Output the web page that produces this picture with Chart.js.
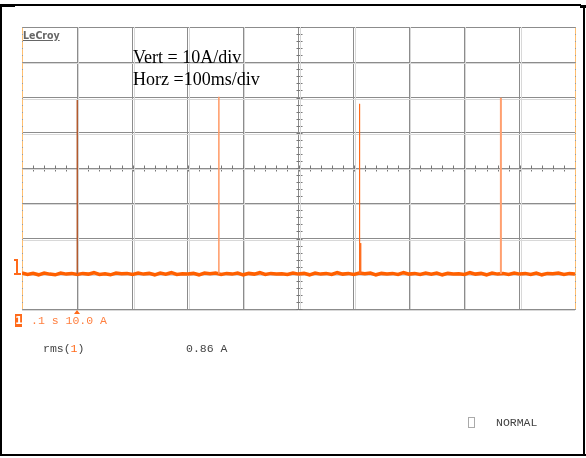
<!DOCTYPE html>
<html lang="en">
<head>
    <meta charset="UTF-8">
    <title>LeCroy capture</title>
    <style>
        body {
            margin: 0;
            background: #fff;
        }
        .page {
            position: relative;
            width: 586px;
            height: 458px;
            overflow: hidden;
            background: #fff;
        }
        canvas {
            position: absolute;
            left: 0;
            top: 0;
        }
        .txt {
            position: absolute;
            white-space: pre;
            line-height: 12px;
        }
        .mono {
            font-family: "Liberation Mono", "DejaVu Sans Mono", monospace;
            font-size: 11.5px;
        }
        .serif {
            font-family: "Liberation Serif", serif;
            font-size: 18px;
            line-height: 22px;
            color: #000;
        }
        .rule {
            position: absolute;
            background: #000;
        }
    </style>
</head>
<body>
<div class="page">
    <canvas id="scope" width="586" height="458"></canvas>

    <div class="rule" style="left:0;top:4px;width:581px;height:2px"></div>
    <div class="rule" style="left:0;top:4px;width:15px;height:3px"></div>
    <div class="rule" style="left:580px;top:5px;width:6px;height:3px"></div>
    <div class="rule" style="left:0;top:4px;width:2px;height:452px"></div>
    <div class="rule" style="left:583px;top:6px;width:2px;height:450px"></div>
    <div class="rule" style="left:0;top:454px;width:586px;height:2px"></div>

    <div class="txt" style="left:23px;top:29px;font:bold 10.5px 'DejaVu Sans Condensed',sans-serif;color:#666;text-decoration:underline">LeCroy</div>
    <div class="txt serif" style="left:133px;top:46px">Vert = 10A/div</div>
    <div class="txt serif" style="left:133px;top:68px">Horz =100ms/div</div>

    <div class="txt" style="left:15px;top:314px;width:7px;height:13px;background:#ff6a1a;color:#fff;font:bold 11px 'DejaVu Sans',sans-serif;text-align:center;line-height:13px">1</div>
    <div class="txt mono" style="left:31px;top:315px;color:#ff7f3f">.1 s 10.0 A</div>
    <div class="txt mono" style="left:43px;top:343px;color:#444">rms(<span style="color:#ff6a1a">1</span>)</div>
    <div class="txt mono" style="left:186px;top:343px;color:#444">0.86 A</div>
    <div style="position:absolute;left:468px;top:417px;width:5px;height:9px;border:1px solid #aaa"></div>
    <div class="txt mono" style="left:496px;top:417px;color:#444">NORMAL</div>
</div>

<script src="https://cdn.jsdelivr.net/npm/chart.js"></script>
<script>
    // channel 1 samples (ms, A)
    const traceTimes = [
        0, 10, 20, 30, 40, 50, 60, 70, 80, 90,
        100, 110, 120, 130, 140, 150, 160, 170, 180, 190,
        200, 210, 220, 230, 240, 250, 260, 270, 280, 290,
        300, 310, 320, 330, 340, 350, 360, 370, 380, 390,
        400, 410, 420, 430, 440, 450, 460, 470, 480, 490,
        500, 510, 520, 530, 540, 550, 560, 570, 580, 590,
        600, 610, 620, 630, 640, 650, 660, 670, 680, 690,
        700, 710, 720, 730, 740, 750, 760, 770, 780, 790,
        800, 810, 820, 830, 840, 850, 860, 870, 880, 890,
        900, 910, 920, 930, 940, 950, 960, 970, 980, 990,
        1000
    ];
    const traceValues = [
        -29.8, -30.2, -29.9, -30.3, -29.8, -30.1, -30.3, -29.8, -30.1, -29.9,
        -30.2, -29.9, -30.1, -29.7, -30.2, -30.0, -30.3, -29.8, -30.0, -29.9,
        -30.2, -29.8, -30.1, -29.9, -30.3, -29.8, -30.1, -29.7, -30.2, -30.0,
        -30.1, -29.9, -30.3, -29.8, -30.0, -29.8, -30.2, -29.9, -30.1, -29.8,
        -30.3, -29.9, -30.1, -29.7, -30.2, -29.9, -30.1, -30.0, -30.2, -29.8,
        -30.1, -29.9, -30.3, -29.8, -30.1, -29.9, -30.2, -29.7, -30.1, -29.9,
        -30.2, -29.8, -30.0, -29.8, -30.3, -29.9, -30.1, -29.9, -30.2, -29.7,
        -30.1, -29.9, -30.2, -29.8, -30.1, -29.8, -30.3, -29.9, -30.1, -30.0,
        -30.2, -29.7, -30.1, -29.9, -30.3, -29.8, -30.1, -29.9, -30.2, -29.8,
        -30.1, -29.9, -30.2, -29.8, -30.3, -29.9, -30.0, -29.8, -30.2, -29.9,
        -30.1
    ];

    // current pulses
    const baseLevel = -30;
    const spikeTimes = [100, 356, 610.5, 866];
    const spikePeaks = [19.3, 20.2, 18.2, 19.9];
    const bumpTime = 612.5;
    const bumpPeak = -21.3;

    const triggerTime = 100;
    const xMin = 0, xMax = 1000, xStep = 100;
    const yMin = -40, yMax = 40, yStep = 10;

    const spikeColors = ['#b25a2e', '#ff9a66', '#ff6a1a', '#ffa070'];
    const spikeWidths = [1.5, 1.5, 1, 2];

    const trace = traceTimes.map((t, i) => ({ x: t, y: traceValues[i] }));

    const spikeSets = spikeTimes.map((t, i) => {
        const pts = [{ x: t, y: baseLevel }, { x: t, y: spikePeaks[i] }, { x: t, y: baseLevel }];
        if (i === 2) {
            pts.push({ x: bumpTime, y: baseLevel }, { x: bumpTime, y: bumpPeak }, { x: bumpTime, y: baseLevel });
        }
        return {
            data: pts,
            borderColor: spikeColors[i],
            borderWidth: spikeWidths[i],
            pointRadius: 0,
            tension: 0
        };
    });

    // minor ticks on the centre axes, coloured edges and channel markers
    const scopeDecor = {
        id: 'scopeDecor',
        beforeDatasetsDraw(chart) {
            const { ctx, chartArea: a, scales: { x, y } } = chart;
            const cx = Math.round(x.getPixelForValue((xMin + xMax) / 2)) + 0.5;
            const cy = Math.round(y.getPixelForValue(0)) + 0.5;
            ctx.save();
            ctx.strokeStyle = '#777';
            ctx.lineWidth = 1;
            ctx.beginPath();
            for (let v = xMin; v <= xMax; v += xStep / 5) {
                const px = Math.round(x.getPixelForValue(v)) + 0.5;
                ctx.moveTo(px, cy - 3);
                ctx.lineTo(px, cy + 3);
            }
            for (let v = yMin; v <= yMax; v += yStep / 5) {
                const py = Math.round(y.getPixelForValue(v)) + 0.5;
                ctx.moveTo(cx - 3, py);
                ctx.lineTo(cx + 3, py);
            }
            ctx.stroke();

            // light shade next to every grid line
            ctx.strokeStyle = '#d8d8d8';
            ctx.beginPath();
            for (let v = xMin + xStep; v < xMax; v += xStep) {
                const px = Math.round(x.getPixelForValue(v)) + 1.5;
                ctx.moveTo(px, a.top);
                ctx.lineTo(px, a.bottom);
            }
            for (let v = yMin; v < yMax; v += yStep) {
                const py = Math.round(y.getPixelForValue(v)) + 1.5;
                ctx.moveTo(a.left, py);
                ctx.lineTo(a.right, py);
            }
            ctx.stroke();

            // left / right edges
            ctx.strokeStyle = '#ffbf70';
            ctx.beginPath();
            ctx.moveTo(a.left + 0.5, a.top);
            ctx.lineTo(a.left + 0.5, a.bottom);
            ctx.moveTo(a.right + 0.5, a.top);
            ctx.lineTo(a.right + 0.5, a.bottom);
            ctx.stroke();
            ctx.strokeStyle = '#999';
            ctx.beginPath();
            for (let v = yMin; v <= yMax; v += yStep / 5) {
                const py = Math.round(y.getPixelForValue(v)) + 0.5;
                [a.left, a.right].forEach(ex => {
                    ctx.moveTo(ex, py);
                    ctx.lineTo(ex + 1, py);
                });
            }
            ctx.stroke();

            // ground marker of channel 1
            const gy = Math.round(y.getPixelForValue(baseLevel));
            ctx.fillStyle = '#ff6a1a';
            ctx.fillRect(16, gy - 15, 2, 15);
            ctx.fillRect(14, gy - 15, 4, 2);
            ctx.fillRect(14, gy - 1, 7, 2);

            // trigger marker
            const tx = Math.round(x.getPixelForValue(triggerTime));
            ctx.beginPath();
            ctx.moveTo(tx - 3, a.bottom + 5);
            ctx.lineTo(tx + 3, a.bottom + 5);
            ctx.lineTo(tx, a.bottom + 1);
            ctx.closePath();
            ctx.fill();
            ctx.restore();
        }
    };

    new Chart(document.getElementById('scope').getContext('2d'), {
        type: 'line',
        data: {
            datasets: [
                ...spikeSets,
                {
                    data: trace,
                    borderColor: '#ff6000',
                    borderWidth: 3.5,
                    pointRadius: 0,
                    tension: 0
                }
            ]
        },
        options: {
            responsive: false,
            animation: false,
            events: [],
            layout: { padding: { left: 22, top: 27, right: 11, bottom: 149 } },
            plugins: {
                legend: { display: false },
                tooltip: { enabled: false }
            },
            scales: {
                x: {
                    type: 'linear',
                    min: xMin,
                    max: xMax,
                    ticks: { stepSize: xStep, display: false },
                    grid: { color: '#8c8c8c', lineWidth: 1, drawTicks: false },
                    border: { display: false }
                },
                y: {
                    type: 'linear',
                    min: yMin,
                    max: yMax,
                    ticks: { stepSize: yStep, display: false },
                    grid: { color: '#8c8c8c', lineWidth: 1, drawTicks: false },
                    border: { display: false }
                }
            }
        },
        plugins: [scopeDecor]
    });
</script>
</body>
</html>
